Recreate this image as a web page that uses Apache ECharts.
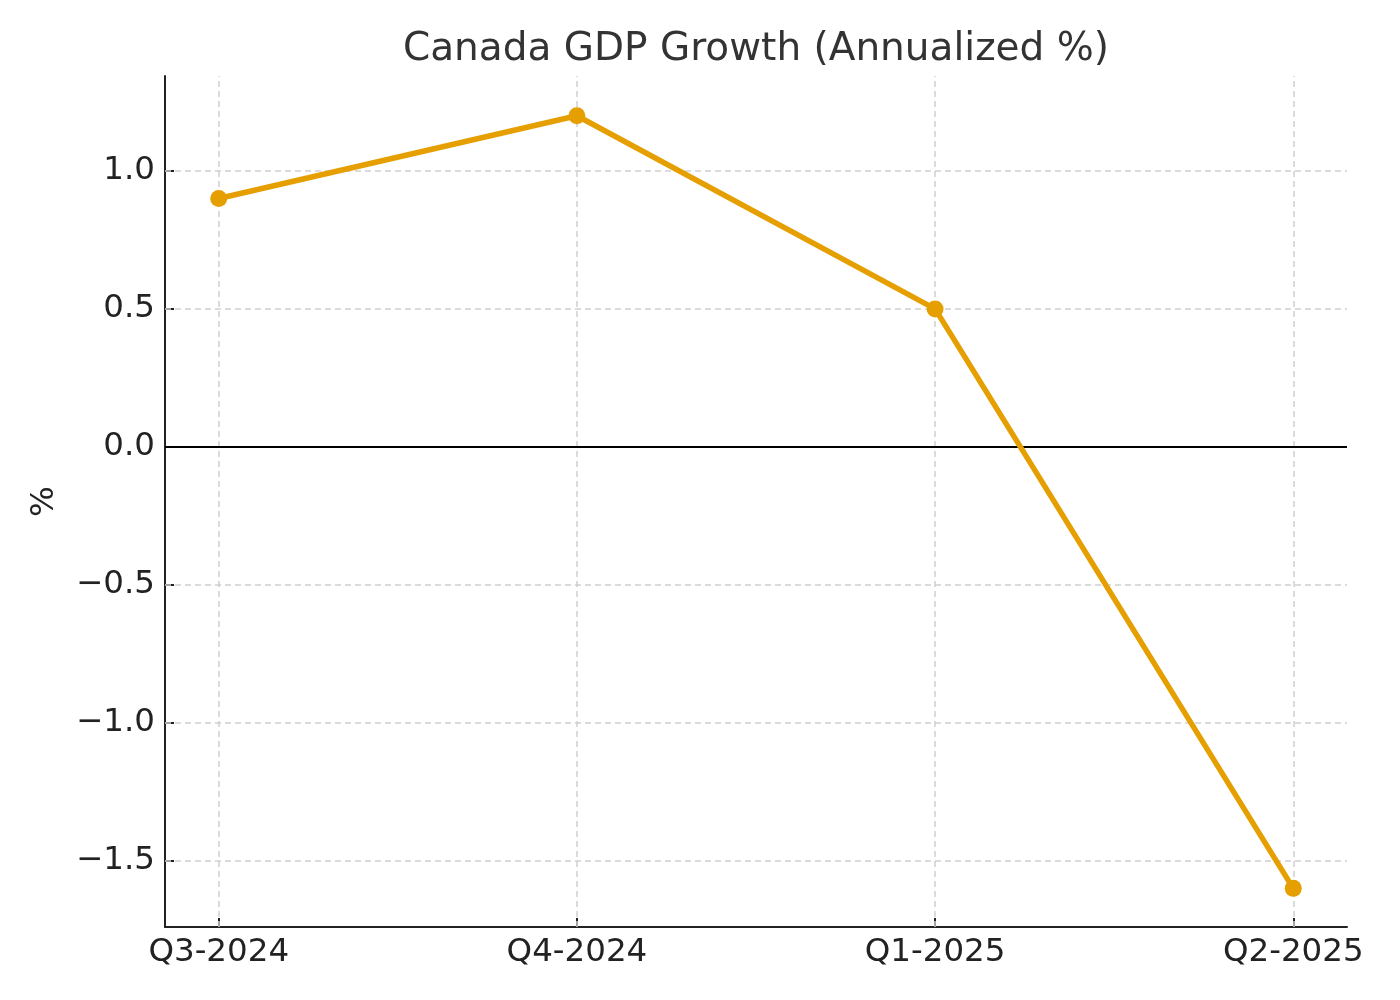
<!DOCTYPE html>
<html>
<head>
<meta charset="utf-8">
<script src="https://cdn.jsdelivr.net/npm/echarts@6/dist/echarts.min.js"></script>
<style>html,body{margin:0;padding:0;background:#fff}#c{width:1400px;height:1000px}</style>
</head>
<body>
<div id="c"></div>
<script>
const categories = ['Q3-2024', 'Q4-2024', 'Q1-2025', 'Q2-2025'];
const gdpGrowth = [0.9, 1.2, 0.5, -1.6];
const yTicks = [-1.5, -1.0, -0.5, 0.0, 0.5, 1.0];

const xTicks = categories.map((c, i) => i);
const seriesData = gdpGrowth.map((v, i) => [i, v]);
const FONT = 'DejaVu Sans';
const TICKFS = 32.5;

const chart = echarts.init(document.getElementById('c'), null, {renderer: 'canvas'});
chart.setOption({
  animation: false,
  backgroundColor: '#fff',
  title: {
    text: 'Canada GDP Growth (Annualized %)',
    left: 751, top: 25, textAlign: 'center',
    textStyle: {fontFamily: FONT, fontSize: 39, fontWeight: 'normal', color: '#333'}
  },
  grid: {left: 165, right: 53, top: 76, bottom: 73, containLabel: false},
  xAxis: {
    type: 'value', min: -0.15, max: 3.15,
    axisLine: {show: true, onZero: false, lineStyle: {color: '#222', width: 2}},
    axisTick: {show: true, inside: true, length: 9, customValues: xTicks, lineStyle: {color: '#222', width: 2}},
    axisLabel: {customValues: xTicks, margin: 9, fontFamily: FONT, fontSize: TICKFS, color: '#222',
      formatter: v => categories[Math.round(v)] || ''},
    splitLine: {show: false}
  },
  yAxis: {
    type: 'value', min: -1.74, max: 1.344,
    name: '%', nameLocation: 'middle', nameGap: 104, nameRotate: 90,
    nameTextStyle: {fontFamily: FONT, fontSize: TICKFS, color: '#222'},
    axisLine: {show: true, onZero: false, lineStyle: {color: '#222', width: 2}},
    axisTick: {show: true, inside: true, length: 9, customValues: yTicks, lineStyle: {color: '#222', width: 2}},
    axisLabel: {customValues: yTicks, margin: 10, fontFamily: FONT, fontSize: TICKFS, color: '#222',
      formatter: v => (v < 0 ? '\u2212' : '') + Math.abs(v).toFixed(1)},
    splitLine: {show: false}
  },
  series: [
    {
      type: 'line', data: [], silent: true,
      markLine: {
        silent: true, symbol: 'none', label: {show: false},
        lineStyle: {type: [6, 4], color: '#cfcfcf', width: 1.5},
        data: yTicks.filter(v => v !== 0).map(v => ({yAxis: v})).concat(xTicks.map(v => ({xAxis: v})))
      }
    },
    {
      type: 'line', data: [], silent: true,
      markLine: {
        silent: true, symbol: 'none', label: {show: false},
        lineStyle: {type: 'solid', color: '#000', width: 2},
        data: [{yAxis: 0}]
      }
    },
    {
      type: 'line', data: seriesData, z: 5,
      lineStyle: {color: '#E69F00', width: 5.5},
      itemStyle: {color: '#E69F00'},
      symbol: 'circle', symbolSize: 17, showSymbol: true
    }
  ]
});
</script>
</body>
</html>
